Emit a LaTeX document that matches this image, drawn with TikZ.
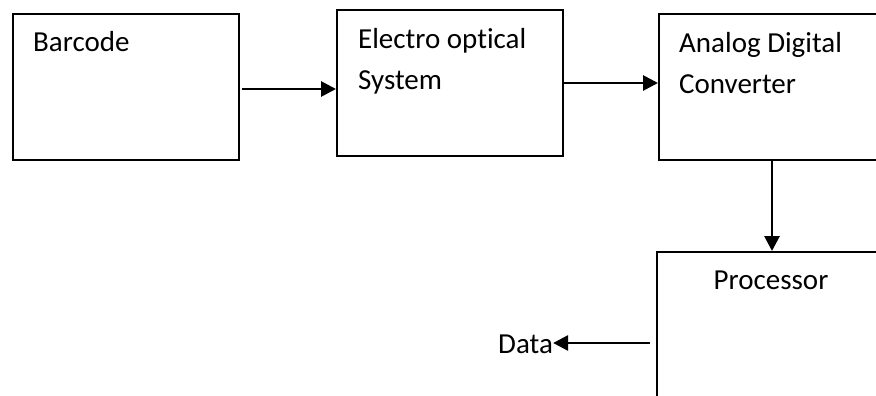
\documentclass[tikz,border=0pt]{standalone}
\usepackage{fontspec}
\setmainfont{Carlito}[Ligatures={NoCommon}]
\usetikzlibrary{arrows.meta}
\begin{document}
\begin{tikzpicture}[x=1pt,y=-1pt,
  box/.style={draw=black,line width=1.6pt,rectangle,inner sep=0pt,minimum width=226pt,minimum height=146pt,anchor=north west},
  txt/.style={font=\fontsize{29}{41}\selectfont,inner sep=0pt,align=left,anchor=base west},
  arr/.style={line width=2.8pt,-{Triangle[length=15pt,width=15pt]}}]
\useasboundingbox (0,0) rectangle (876,396);
\fill[white] (0,0) rectangle (876,396);
\clip (0,0) rectangle (876,396);
\node[box] (bar) at (12,13) {};
\node[box] (eo) at (336,9) {};
\node[box] (adc) at (658,13) {};
\node[box] (proc) at (656,251) {};
\node[txt] (tbar) at (33,52) {Barcode};
\node[txt] (teo) at (358,89) {Electro optical\\System};
\node[txt] (tadc) at (679,93) {Analog Digital\\Converter};
\node[txt,anchor=base] (tproc) at (771,289) {Processor};
\node[txt,anchor=base west] (data) at (498,353) {Data};
\coordinate (a1s) at (242,89);
\coordinate (dstart) at (650,343);
\draw[arr] (a1s) -- (a1s -| eo.west);
\draw[arr] (eo.east |- 0,83) -- (adc.west |- 0,83);
\draw[arr] (adc.south -| 772,0) -- (proc.north -| 772,0);
\draw[arr] (dstart) -- (data.east |- dstart);
\end{tikzpicture}
\end{document}
